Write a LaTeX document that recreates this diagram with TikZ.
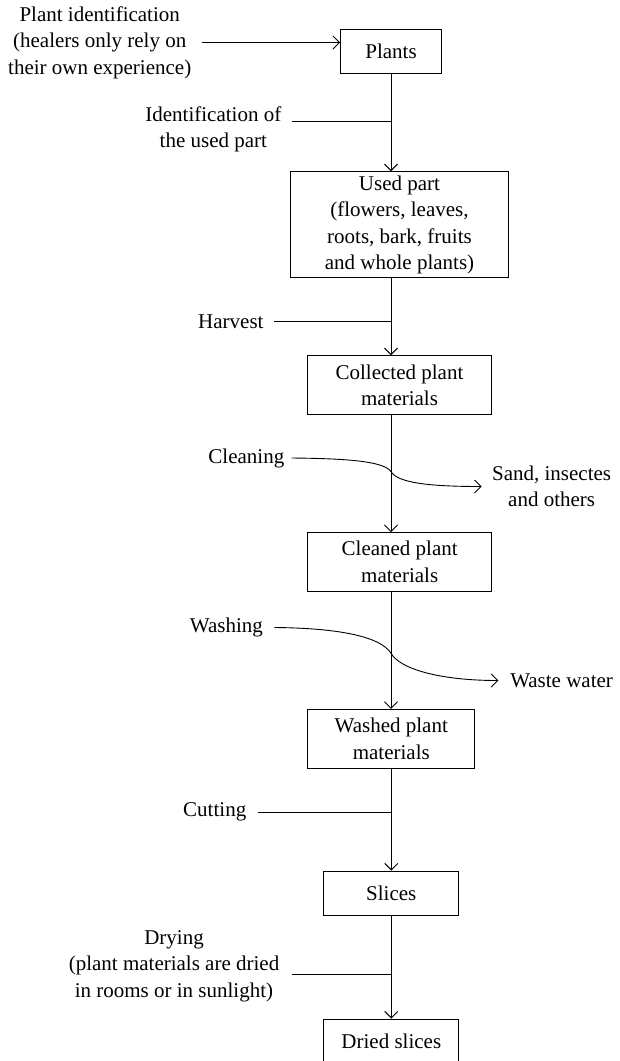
\documentclass[tikz,border=0pt]{standalone}
\usepackage{fontspec}
\setmainfont{Liberation Serif}
\usetikzlibrary{arrows.meta}

\begin{document}
\begin{tikzpicture}[
        > = {Straight Barb[length=6.5pt, width=13pt]}, % open arrow head
        x = 1pt, y = -1pt, % pixel grid, y runs down
        line width = 0.9pt % line style
    ]

    \useasboundingbox (0,0) rectangle (619,1061);

    \tikzstyle{every node}=[font=\fontsize{21}{26.5}\selectfont, align = center]
    \tikzstyle{stage}=[draw = black, rectangle, inner sep = 2pt]
    \tikzstyle{note}=[inner xsep = 10pt, inner ysep = 0pt]

    % boxes of the main chain
    \node[stage, minimum width = 101pt, minimum height = 44pt] (plants) at (391,51) {Plants};
    \node[stage, minimum width = 218pt, minimum height = 106pt] (used) at (399.5,224.7)
        {Used part\\(flowers, leaves,\\roots, bark, fruits\\and whole plants)};
    \node[stage, minimum width = 184pt, minimum height = 59pt] (collected) at (399.5,385.2)
        {Collected plant\\materials};
    \node[stage, minimum width = 184pt, minimum height = 59pt] (cleaned) at (399.7,562)
        {Cleaned plant\\materials};
    \node[stage, minimum width = 167pt, minimum height = 59pt] (washed) at (391.3,738.8)
        {Washed plant\\materials};
    \node[stage, minimum width = 135pt, minimum height = 44pt] (slices) at (391.3,893) {Slices};
    \node[stage, minimum width = 135pt, minimum height = 45pt] (dried) at (391.3,1041.5) {Dried slices};

    % side notes
    \node[note, anchor = east] (plantid) at (201.7,42.5)
        {Plant identification\\(healers only rely on\\their own experience)};
    \node[note, anchor = east] (ident) at (291.7,129.5) {Identification of\\the used part};
    \node[note, anchor = east] (harvest) at (274,321.7) {Harvest};
    \node[note, anchor = east, inner xsep = 7pt] (cleaning) at (291.7,458) {Cleaning};
    \node[note, anchor = west] (sand) at (481.7,486.5) {Sand, insectes\\and others};
    \node[note, anchor = east, inner xsep = 11pt] (washing) at (274.3,627.5) {Washing};
    \node[note, anchor = west, inner xsep = 11.5pt] (waste) at (498.3,680.5) {Waste water};
    \node[note, anchor = east, inner xsep = 11pt] (cutting) at (257.7,812) {Cutting};
    \node[note, anchor = east, inner xsep = 12pt] (drying) at (291.7,966)
        {Drying\\(plant materials are dried\\in rooms or in sunlight)};

    \coordinate (identjoin) at (391,121.7);
    \coordinate (cleanjoin) at (391,471.7);
    \coordinate (washjoin) at (391,653.3);
    \coordinate (dryjoin) at (391,974.3);

    % main flow
    \path[->] (plants.south) edge (plants.south |- used.north);
    \path[->] (used.south -| plants.south) edge (collected.north -| plants.south);
    \path[->] (collected.south -| plants.south) edge (cleaned.north -| plants.south);
    \path[->] (cleaned.south -| plants.south) edge (washed.north -| plants.south);
    \path[->] (washed.south) edge (slices.north);
    \path[->] (slices.south) edge (dried.north);

    % inputs and outputs
    \path[->] (plantid.east) edge (plantid.east -| plants.west);
    \path[-] (identjoin -| ident.east) edge (identjoin);
    \path[-] (harvest.east) edge (harvest.east -| plants.south);
    \path[-] (cutting.east) edge (cutting.east -| plants.south);
    \path[-] (dryjoin -| drying.east) edge (dryjoin);
    \draw[->] (cleaning.east) .. controls (345,458.5) and (384,461) .. (cleanjoin)
        .. controls (398,483) and (430,486.5) .. (sand.west);
    \draw[->] (washing.east) .. controls (340,628) and (381,637) .. (washjoin)
        .. controls (400,669) and (440,680.5) .. (waste.west);

\end{tikzpicture}
\end{document}
